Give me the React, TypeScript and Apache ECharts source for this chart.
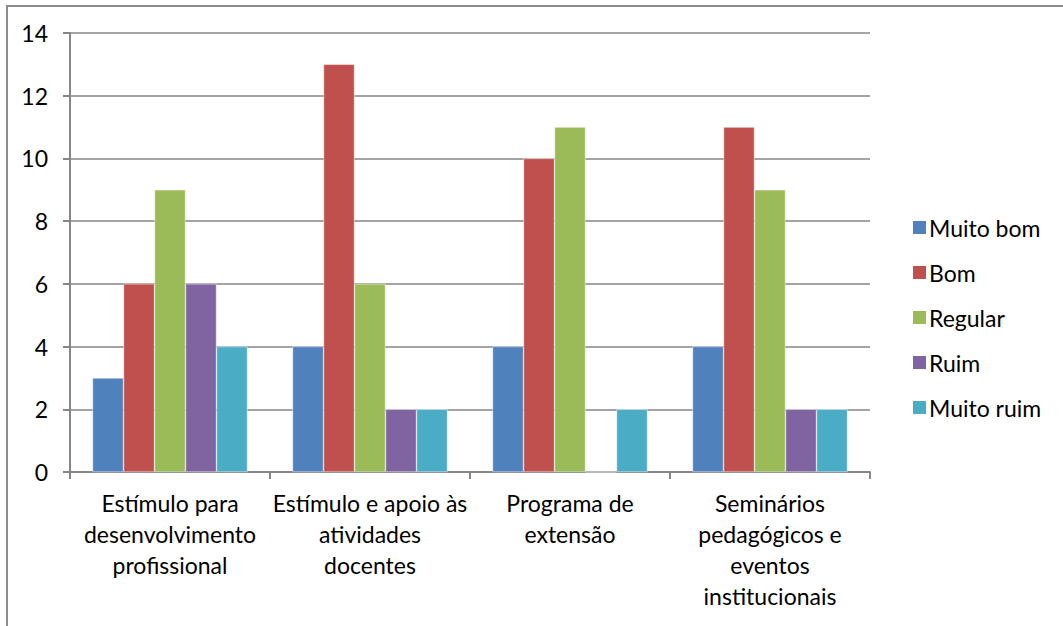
import React, { useEffect, useRef } from "react";
import * as echarts from "echarts";

const categories = [
  "Estímulo para\ndesenvolvimento\nprofissional",
  "Estímulo e apoio às\natividades\ndocentes",
  "Programa de\nextensão",
  "Seminários\npedagógicos e\neventos\ninstitucionais",
];
const seriesNames = ["Muito bom", "Bom", "Regular", "Ruim", "Muito ruim"];
const muitoBom = [3, 4, 4, 4];
const bom = [6, 13, 10, 11];
const regular = [9, 6, 11, 9];
const ruim = [6, 2, 0, 2];
const muitoRuim = [4, 2, 2, 2];
const colors = ["#4F81BD", "#C0504D", "#9BBB59", "#8064A2", "#4BACC6"];
const yTicks = { min: 0, max: 14, interval: 2 };

export default function App() {
  const ref = useRef<HTMLDivElement>(null);
  useEffect(() => {
    if (!ref.current) return;
    const chart = echarts.init(ref.current, undefined, { renderer: "svg" });
    const values = [muitoBom, bom, regular, ruim, muitoRuim];
    const font = "Lato, 'Open Sans', sans-serif";
    chart.setOption({
      animation: false,
      backgroundColor: "#ffffff",
      textStyle: { fontFamily: font },
      graphic: [
        {
          type: "rect",
          shape: { x: 7, y: 6, width: 1200, height: 800 },
          style: { fill: "none", stroke: "#8c8c8c", lineWidth: 2 },
          silent: true,
        },
      ],
      grid: { left: 70, right: 193, top: 33, bottom: 154, containLabel: false },
      legend: {
        orient: "vertical",
        left: 911,
        top: 214,
        padding: 0,
        itemWidth: 15,
        itemHeight: 15,
        itemGap: 18,
        icon: "rect",
        textStyle: { fontFamily: font, fontSize: 23, lineHeight: 27, color: "#000", padding: [0, 0, 0, -3] },
        data: seriesNames,
      },
      xAxis: {
        type: "category",
        data: categories,
        axisLine: { lineStyle: { color: "#868686", width: 2 } },
        axisTick: { show: true, length: 7, lineStyle: { color: "#868686", width: 2 } },
        axisLabel: {
          interval: 0,
          margin: 15,
          fontSize: 23,
          lineHeight: 31,
          color: "#000",
          fontFamily: font,
        },
      },
      yAxis: {
        type: "value",
        min: yTicks.min,
        max: yTicks.max,
        interval: yTicks.interval,
        axisLine: { show: true, lineStyle: { color: "#868686", width: 2 } },
        axisTick: { show: true, length: 7, lineStyle: { color: "#868686", width: 2 } },
        splitLine: { lineStyle: { color: "#868686", width: 1.5 } },
        axisLabel: { fontSize: 23, color: "#000", margin: 22, fontFamily: font },
      },
      series: seriesNames.map((name, i) => ({
        name,
        type: "bar",
        data: values[i],
        barGap: "0%",
        barCategoryGap: "22.5%",
        itemStyle: { color: colors[i], borderColor: "#ffffff", borderWidth: 0.5 },
      })),
    });
    return () => chart.dispose();
  }, []);
  return (
    <div
      ref={ref}
      style={{ position: "fixed", left: 0, top: 0, width: 1063, height: 626 }}
    />
  );
}
